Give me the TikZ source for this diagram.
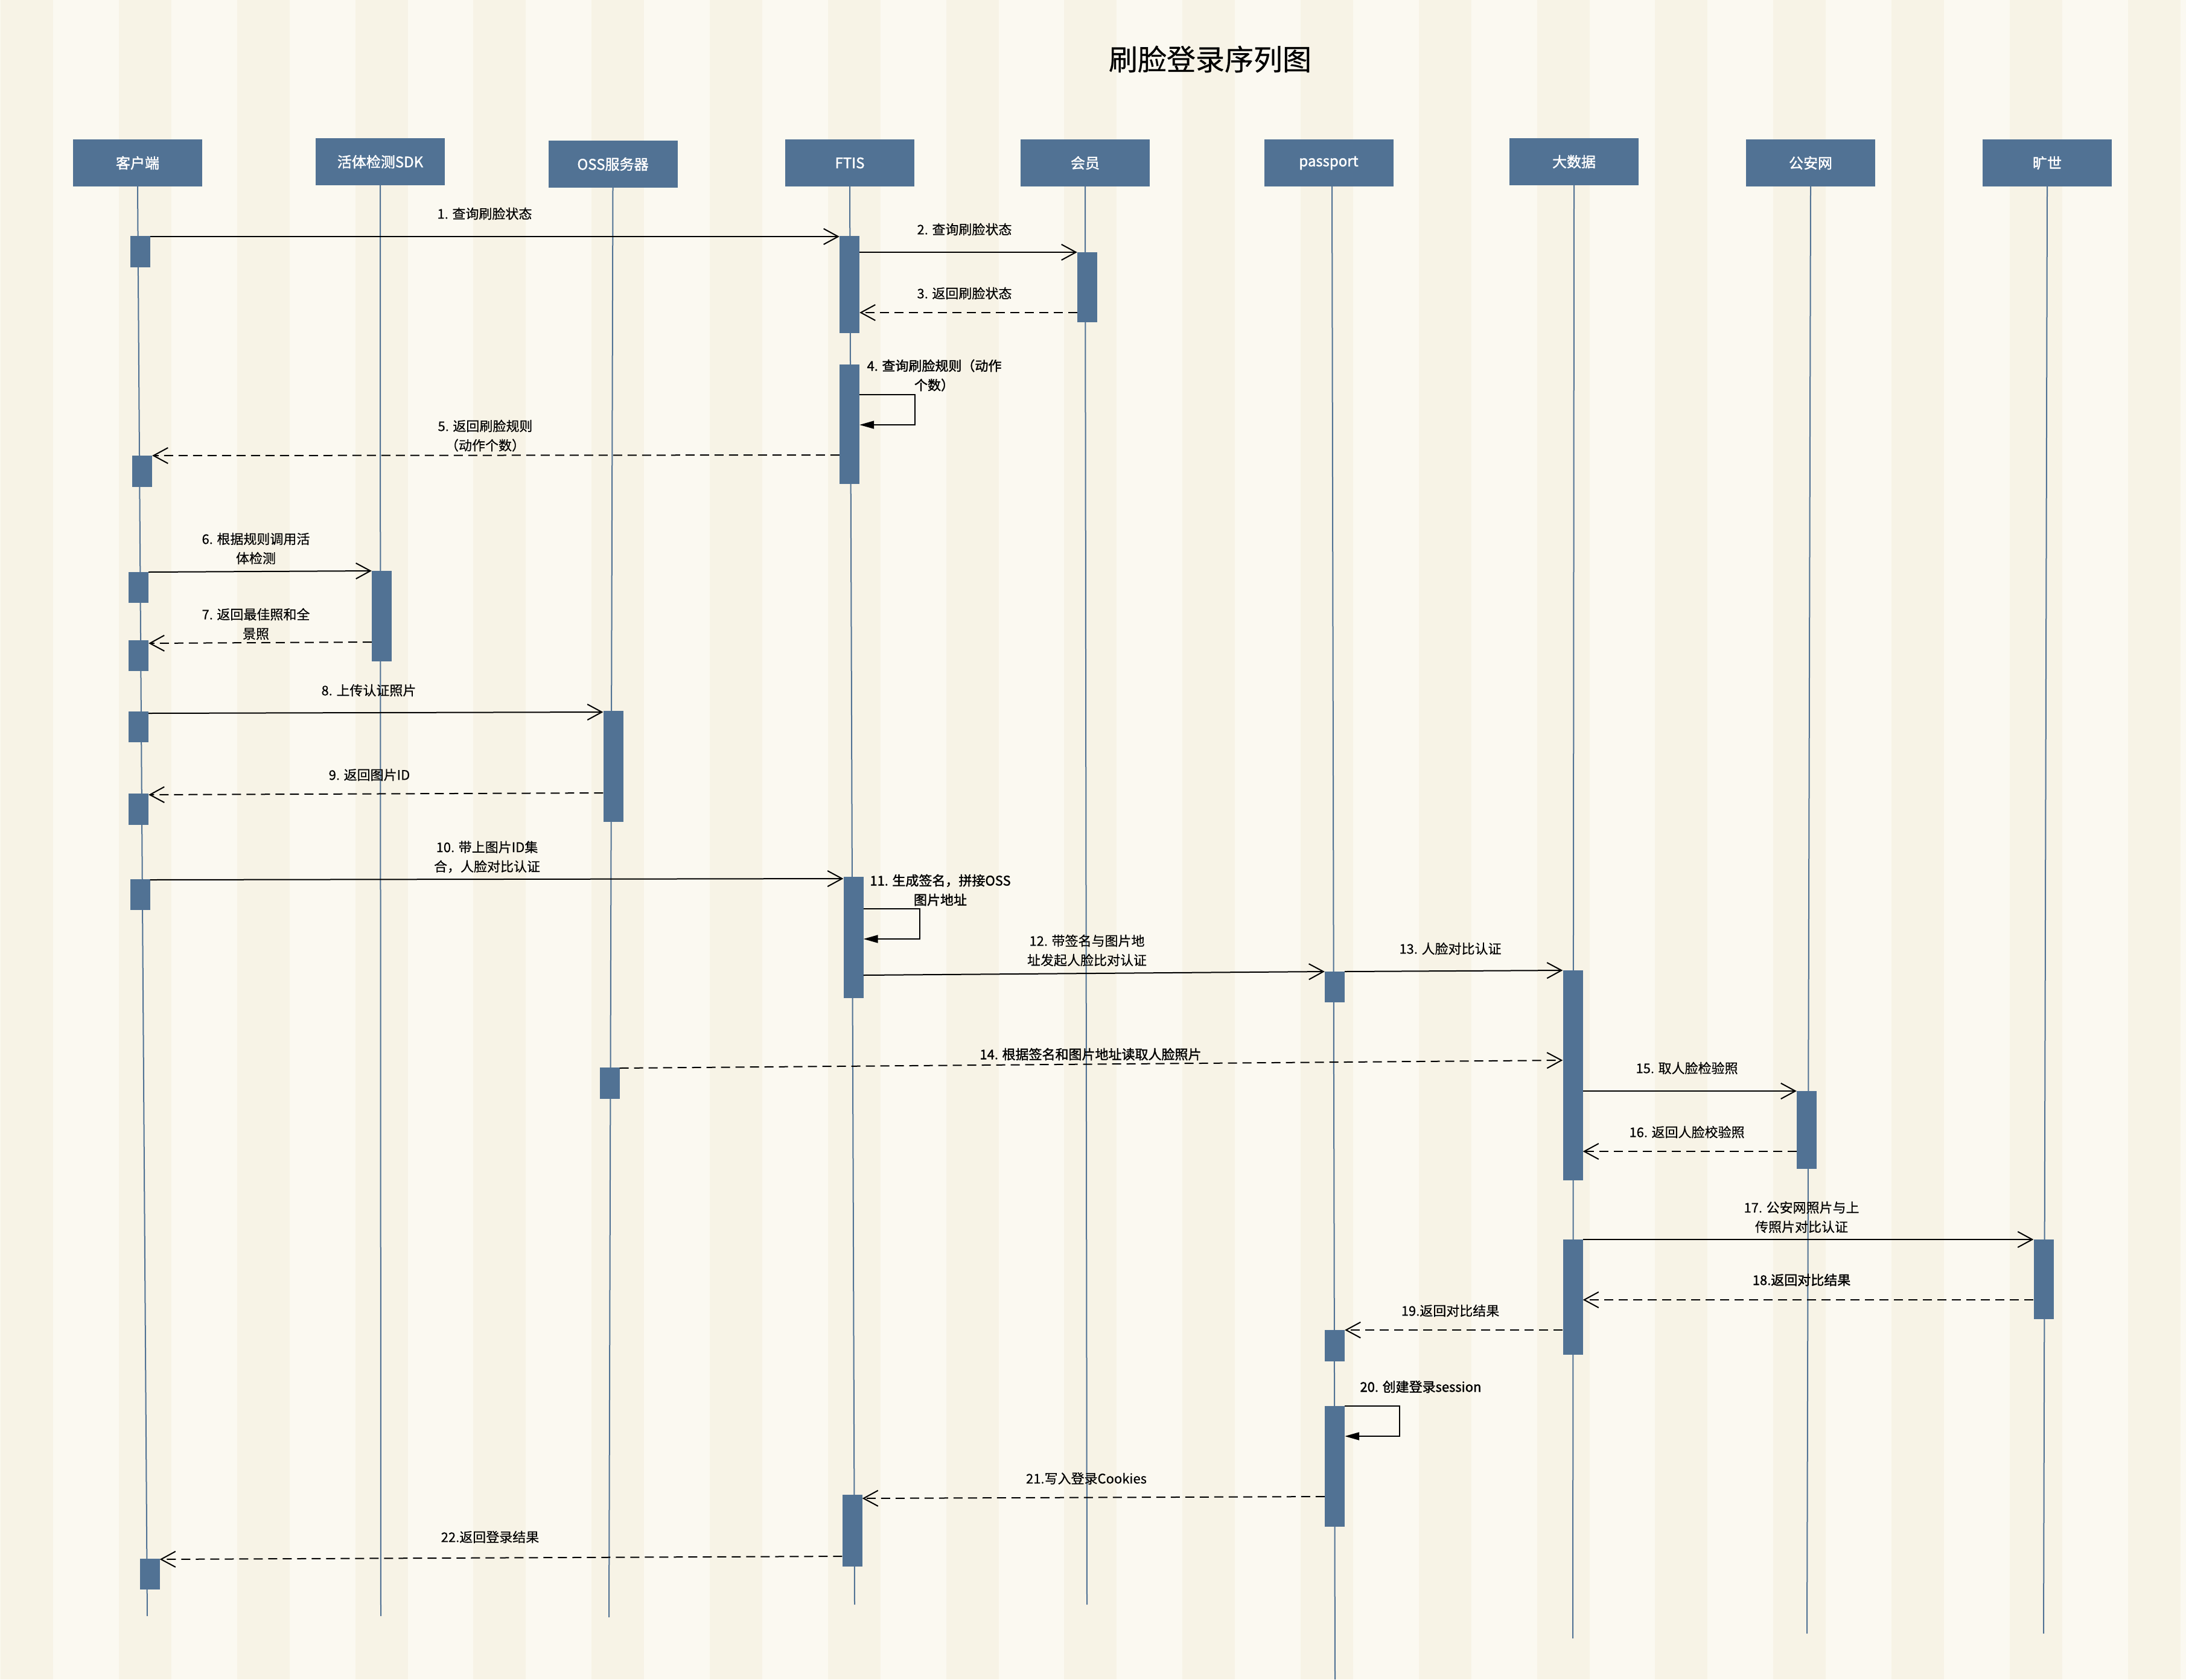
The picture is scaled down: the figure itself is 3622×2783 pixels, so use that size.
\documentclass[tikz,border=0pt]{standalone}
\usepackage{fontspec}
\setmainfont{Noto Sans CJK SC}[FakeBold=0.4]
\newfontfamily\midfont{Noto Sans CJK SC}[FakeBold=1.6]
\usetikzlibrary{arrows.meta,calc}
\definecolor{boxc}{RGB}{81,114,148}
\definecolor{bgA}{RGB}{251,249,241}
\definecolor{bgB}{RGB}{247,243,230}
\begin{document}
\begin{tikzpicture}[x=1bp,y=-1bp,
  hdr/.style={fill=boxc, minimum width=214bp, minimum height=78bp, inner sep=0pt, text=white, font=\midfont\fontsize{24bp}{28bp}\selectfont},
  act/.style={fill=boxc, minimum width=33bp, inner sep=0pt},
  life/.style={draw=boxc, line width=2bp},
  msg/.style={line width=2bp, -{Straight Barb[length=24bp,width=26bp]}},
  ret/.style={msg, dash pattern=on 15bp off 9bp},
  selfm/.style={line width=2bp, -{Triangle[length=24bp,width=13bp]}},
  lbl/.style={font=\fontsize{22bp}{32bp}\selectfont, align=center, inner sep=0pt, text=black},
  blbl/.style={lbl, font=\midfont\fontsize{22bp}{32bp}\selectfont}]
\useasboundingbox (0,0) rectangle (3622,2783);
\fill[bgA] (0,0) rectangle (3622,2783);
\foreach \k in {-1,0,...,17} {
  \fill[bgB] ({197+195.8*\k},0) rectangle ({197+195.8*\k+87},2783);
}
% title
\node[font=\fontsize{48bp}{56bp}\selectfont, inner sep=0pt] (title) at (2005,98) {刷脸登录序列图};
% headers
\node[hdr] (h1) at (228,270) {客户端};
\node[hdr] (h2) at (630,268) {活体检测SDK};
\node[hdr] (h3) at (1015.5,272) {OSS服务器};
\node[hdr] (h4) at (1408,270) {FTIS};
\node[hdr] (h5) at (1798,270) {会员};
\node[hdr] (h6) at (2201.5,270) {passport};
\node[hdr] (h7) at (2608,268) {大数据};
\node[hdr] (h8) at (3000,270) {公安网};
\node[hdr] (h9) at (3392,270) {旷世};
% lifeline ends
\coordinate (e1) at (244,2678);
\coordinate (e2) at (631,2678);
\coordinate (e3) at (1009,2680);
\coordinate (e4) at (1416,2659);
\coordinate (e5) at (1801,2659);
\coordinate (e6) at (2212,2783);
\coordinate (e7) at (2606,2715);
\coordinate (e8) at (2994,2707);
\coordinate (e9) at (3386,2707);
\draw[life] (h1.south) -- (e1);
\draw[life] (h2.south) -- (e2);
\draw[life] (h3.south) -- (e3);
\draw[life] (h4.south) -- (e4);
\draw[life] (h5.south) -- (e5);
\draw[life] ($(h6.south)+(5.5,0)$) -- (e6);
\draw[life] (h7.south) -- (e7);
\draw[life] (h8.south) -- (e8);
\draw[life] (h9.south) -- (e9);
% activation bars
\node[act, minimum height=52bp] (c1) at (232,417) {};
\node[act, minimum height=52bp] (c2) at (235.5,781) {};
\node[act, minimum height=51bp] (c3) at (229.5,973.5) {};
\node[act, minimum height=51bp] (c4) at (229.5,1086.5) {};
\node[act, minimum height=51bp] (c5) at (229.5,1204.5) {};
\node[act, minimum height=52bp] (c6) at (229.5,1341) {};
\node[act, minimum height=51bp] (c7) at (232,1482.5) {};
\node[act, minimum height=51bp] (c8) at (248,2608.5) {};
\node[act, minimum height=161bp] (f1) at (1407.5,471.5) {};
\node[act, minimum height=198bp] (f2) at (1407.5,703) {};
\node[act, minimum height=201bp] (f3) at (1414,1553.5) {};
\node[act, minimum height=119bp] (f4) at (1412,2536.5) {};
\node[act, minimum height=116bp] (m1) at (1801.5,476) {};
\node[act, minimum height=150bp] (s1) at (632.5,1021) {};
\node[act, minimum height=184bp] (o1) at (1016,1270) {};
\node[act, minimum height=52bp] (o2) at (1010,1795) {};
\node[act, minimum height=51bp] (p1) at (2211.5,1635.5) {};
\node[act, minimum height=52bp] (p2) at (2211.5,2230) {};
\node[act, minimum height=200bp] (p3) at (2211.5,2430) {};
\node[act, minimum height=348bp] (b1) at (2606,1782) {};
\node[act, minimum height=191bp] (b2) at (2606,2149.5) {};
\node[act, minimum height=129bp] (g1) at (2993.5,1872.5) {};
\node[act, minimum height=132bp] (k1) at (3386,2120) {};
% messages
\draw[msg] (c1.east |- 0,392) -- (f1.west |- 0,392);
\node[lbl] (t1) at (803,354) {1. 查询刷脸状态};
\draw[msg] (f1.east |- 0,418) -- (m1.west |- 0,418);
\node[lbl] (t2) at (1598,380) {2. 查询刷脸状态};
\draw[ret] (m1.west |- 0,518) -- (f1.east |- 0,518);
\node[lbl] (t3) at (1598,486) {3. 返回刷脸状态};
\draw[selfm] (f2.east |- 0,654) -- (1516,654) -- (1516,704) -- (f2.east |- 0,704);
\node[blbl] (t4) at (1548,622) {4. 查询刷脸规则（动作\\个数）};
\draw[ret] (f2.west |- 0,754) -- (c2.east |- 0,755);
\node[lbl] (t5) at (804,722) {5. 返回刷脸规则\\（动作个数）};
\draw[msg] (c3.east |- 0,948) -- (s1.west |- 0,946);
\node[lbl] (t6) at (424,909) {6. 根据规则调用活\\体检测};
\draw[ret] (s1.west |- 0,1064) -- (c4.east |- 0,1066);
\node[lbl] (t7) at (424,1034) {7. 返回最佳照和全\\景照};
\draw[msg] (c5.east |- 0,1182) -- (o1.west |- 0,1180);
\node[lbl] (t8) at (611,1144) {8. 上传认证照片};
\draw[ret] (o1.west |- 0,1314) -- (c6.east |- 0,1317);
\node[lbl] (t9) at (612,1284) {9. 返回图片ID};
\draw[msg] (c7.east |- 0,1458) -- (f3.west |- 0,1456);
\node[lbl] (t10) at (807,1420) {10. 带上图片ID集\\合，人脸对比认证};
\draw[selfm] (f3.east |- 0,1506) -- (1524,1506) -- (1524,1556) -- (f3.east |- 0,1556);
\node[blbl] (t11) at (1558,1475) {11. 生成签名，拼接OSS\\图片地址};
\draw[msg] (f3.east |- 0,1616) -- (p1.west |- 0,1610);
\node[lbl] (t12) at (1801,1575) {12. 带签名与图片地\\址发起人脸比对认证};
\draw[msg] (p1.east |- 0,1610) -- (b1.west |- 0,1608);
\node[lbl] (t13) at (2403,1572) {13. 人脸对比认证};
\draw[ret] (o2.east |- 0,1770) -- (b1.west |- 0,1757);
\node[blbl] (t14) at (1807,1747) {14. 根据签名和图片地址读取人脸照片};
\draw[msg] (b1.east |- 0,1808) -- (g1.west |- 0,1808);
\node[lbl] (t15) at (2795,1770) {15. 取人脸检验照};
\draw[ret] (g1.west |- 0,1908) -- (b1.east |- 0,1908);
\node[lbl] (t16) at (2795,1876) {16. 返回人脸校验照};
\draw[msg] (b2.east |- 0,2054) -- (k1.west |- 0,2054);
\node[lbl] (t17) at (2985,2017) {17. 公安网照片与上\\传照片对比认证};
\draw[ret] (k1.west |- 0,2154) -- (b2.east |- 0,2154);
\node[blbl] (t18) at (2985,2121) {18.返回对比结果};
\draw[ret] (b2.west |- 0,2204) -- (p2.east |- 0,2204);
\node[lbl] (t19) at (2403,2172) {19.返回对比结果};
\draw[selfm] (p3.east |- 0,2330) -- (2319,2330) -- (2319,2380) -- (p3.east |- 0,2380);
\node[blbl] (t20) at (2354,2298) {20. 创建登录session};
\draw[ret] (p3.west |- 0,2480) -- (f4.east |- 0,2483);
\node[lbl] (t21) at (1800,2450) {21.写入登录Cookies};
\draw[ret] (f4.west |- 0,2579) -- (c8.east |- 0,2584);
\node[lbl] (t22) at (812,2547) {22.返回登录结果};
\end{tikzpicture}
\end{document}
